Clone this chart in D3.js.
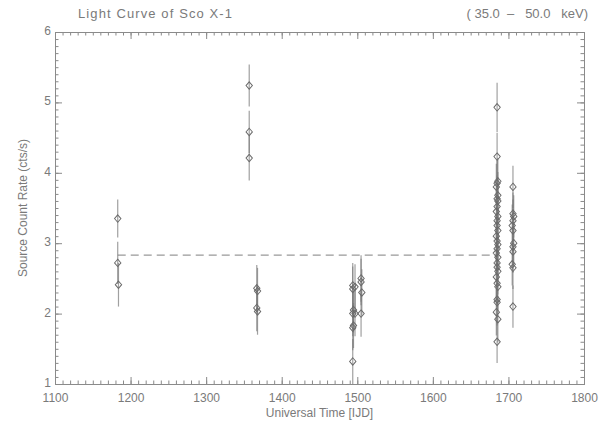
<!DOCTYPE html>
<html>
<head>
<meta charset="utf-8">
<script src="https://cdn.jsdelivr.net/npm/d3@7"></script>
<style>
  body { margin: 0; background: #fff; }
  svg text { font-family: "Liberation Sans", "DejaVu Sans", sans-serif; fill: #7a7a7a; }
</style>
</head>
<body>
<div id="chart"></div>
<script>
// light curve data
const times = [
  1183, 1183, 1184,
  1357, 1357, 1357,
  1367, 1368, 1367, 1368,
  1494, 1494, 1495, 1494, 1495, 1494, 1494, 1497, 1497, 1505, 1505, 1506, 1505,
  1685, 1685, 1686, 1685, 1684, 1686, 1685, 1686, 1685, 1684, 1686, 1685, 1685, 1686, 1684, 1685,
  1686, 1685, 1684, 1686, 1685, 1685, 1686, 1684, 1685, 1686, 1685, 1685, 1684, 1686, 1685,
  1706, 1706, 1707, 1706, 1705, 1706, 1707, 1706, 1706, 1705, 1706, 1706
];
const rates = [
  3.35, 2.72, 2.41,
  5.24, 4.58, 4.21,
  2.36, 2.32, 2.08, 2.03,
  2.40, 2.35, 2.05, 2.00, 1.83, 1.80, 1.32, 2.38, 2.00, 2.50, 2.45, 2.30, 2.00,
  4.93, 4.23, 3.88, 3.85, 3.80, 3.68, 3.63, 3.60, 3.52, 3.45, 3.38, 3.32, 3.25, 3.18, 3.10, 3.03,
  2.98, 2.92, 2.86, 2.80, 2.72, 2.66, 2.60, 2.52, 2.43, 2.38, 2.20, 2.16, 2.02, 1.92, 1.60,
  3.80, 3.42, 3.38, 3.32, 3.25, 3.18, 3.00, 2.95, 2.88, 2.70, 2.65, 2.10
];
const errors = [
  0.27, 0.30, 0.31,
  0.30, 0.30, 0.32,
  0.33, 0.33, 0.33, 0.33,
  0.32, 0.32, 0.32, 0.32, 0.32, 0.32, 0.32, 0.32, 0.32, 0.33, 0.33, 0.33, 0.33,
  0.35, 0.34, 0.33, 0.33, 0.33, 0.33, 0.33, 0.33, 0.33, 0.33, 0.33, 0.33, 0.33, 0.33, 0.33, 0.33,
  0.33, 0.33, 0.33, 0.33, 0.33, 0.33, 0.33, 0.33, 0.33, 0.33, 0.33, 0.33, 0.33, 0.33, 0.30,
  0.30, 0.30, 0.30, 0.30, 0.30, 0.30, 0.30, 0.30, 0.30, 0.30, 0.30, 0.30
];
const meanRate = 2.83;
const meanSpan = [1183, 1685];

const xDomain = [1100, 1800];
const yDomain = [1, 6];
const xTickValues = [1100, 1200, 1300, 1400, 1500, 1600, 1700, 1800];
const yTickValues = [1, 2, 3, 4, 5, 6];

const titleLeft = "Light Curve of Sco X-1";
// non-breaking spaces keep the wide gaps of the original
const titleRight = "(\u00a035.0\u00a0\u00a0\u2013\u00a0\u00a0\u00a050.0\u00a0\u00a0\u00a0keV)";
const xTitle = "Universal Time [IJD]";
const yTitle = "Source Count Rate (cts/s)";

const data = times.map((t, i) => ({t: t, r: rates[i], e: errors[i]}));

// svg setup
const w = 602, h = 426;
const pLeft = 55, pRight = 584, pTop = 32, pBottom = 384;

const svg = d3.select("#chart").append("svg")
  .attr("width", w).attr("height", h);

const xScale = d3.scaleLinear().domain(xDomain).range([pLeft, pRight]);
const yScale = d3.scaleLinear().domain(yDomain).range([pBottom, pTop]);

const frameColor = "#8a8a8a";

// minor ticks every 10 days / 0.1 counts
const xMinor = d3.range(xDomain[0], xDomain[1] + 1, 10);
const yMinor = d3.range(10, 61).map(v => v / 10);

const styleAxis = g => {
  g.select(".domain").attr("stroke", frameColor);
  g.selectAll(".tick line").attr("stroke", frameColor);
};

// minor ticks on all four sides
svg.append("g").attr("transform", `translate(0,${pBottom})`)
  .call(d3.axisBottom(xScale).tickValues(xMinor).tickSize(-3.5).tickFormat(""))
  .call(styleAxis);
svg.append("g").attr("transform", `translate(0,${pTop})`)
  .call(d3.axisTop(xScale).tickValues(xMinor).tickSize(-3.5).tickFormat(""))
  .call(styleAxis);
svg.append("g").attr("transform", `translate(${pLeft},0)`)
  .call(d3.axisLeft(yScale).tickValues(yMinor).tickSize(-3.5).tickFormat(""))
  .call(styleAxis);
svg.append("g").attr("transform", `translate(${pRight},0)`)
  .call(d3.axisRight(yScale).tickValues(yMinor).tickSize(-3.5).tickFormat(""))
  .call(styleAxis);

// major ticks + labels
const xAxis = svg.append("g").attr("transform", `translate(0,${pBottom})`)
  .call(d3.axisBottom(xScale).tickValues(xTickValues).tickSize(-7).tickPadding(9).tickFormat(d3.format("d")))
  .call(styleAxis);
xAxis.selectAll("text").style("font-size", "12px").attr("fill", "#7a7a7a");

svg.append("g").attr("transform", `translate(0,${pTop})`)
  .call(d3.axisTop(xScale).tickValues(xTickValues).tickSize(-7).tickFormat(""))
  .call(styleAxis);

const yAxis = svg.append("g").attr("transform", `translate(${pLeft},0)`)
  .call(d3.axisLeft(yScale).tickValues(yTickValues).tickSize(-7).tickPadding(4).tickFormat(d3.format("d")))
  .call(styleAxis);
yAxis.selectAll("text").style("font-size", "12px").attr("fill", "#7a7a7a").attr("dy", "0.2em");

svg.append("g").attr("transform", `translate(${pRight},0)`)
  .call(d3.axisRight(yScale).tickValues(yTickValues).tickSize(-7).tickFormat(""))
  .call(styleAxis);

// mean level, dashed
svg.append("line")
  .attr("x1", xScale(meanSpan[0])).attr("x2", xScale(meanSpan[1]))
  .attr("y1", yScale(meanRate)).attr("y2", yScale(meanRate))
  .attr("stroke", "#999").attr("stroke-width", 1.2)
  .attr("stroke-dasharray", "8,5");

// error bars
svg.append("g").selectAll("line.err")
  .data(data).enter()
  .append("line")
  .attr("class", "err")
  .attr("x1", d => xScale(d.t)).attr("x2", d => xScale(d.t))
  .attr("y1", d => yScale(d.r + d.e)).attr("y2", d => yScale(d.r - d.e))
  .attr("stroke", "#777").attr("stroke-opacity", 0.7).attr("stroke-width", 1.2);

// diamonds
const diamond = d3.symbol().type(d3.symbolDiamond2).size(32);
svg.append("g").selectAll("path.pt")
  .data(data).enter()
  .append("path")
  .attr("class", "pt")
  .attr("d", diamond)
  .attr("transform", d => `translate(${xScale(d.t)},${yScale(d.r)}) scale(0.9,1.05)`)
  .attr("fill", "none").attr("stroke", "#6a6a6a").attr("stroke-width", 1);

// titles
svg.append("text")
  .attr("x", 78).attr("y", 18)
  .style("font-size", "13px")
  .attr("textLength", 154)
  .text(titleLeft);

svg.append("text")
  .attr("x", 588).attr("y", 18)
  .attr("text-anchor", "end")
  .style("font-size", "13px")
  .text(titleRight);

svg.append("text")
  .attr("x", (pLeft + pRight) / 2).attr("y", 417)
  .attr("text-anchor", "middle")
  .style("font-size", "12px")
  .text(xTitle);

svg.append("text")
  .attr("transform", `translate(27,${(pTop + pBottom) / 2}) rotate(-90)`)
  .attr("text-anchor", "middle")
  .style("font-size", "12px")
  .text(yTitle);
</script>
</body>
</html>
